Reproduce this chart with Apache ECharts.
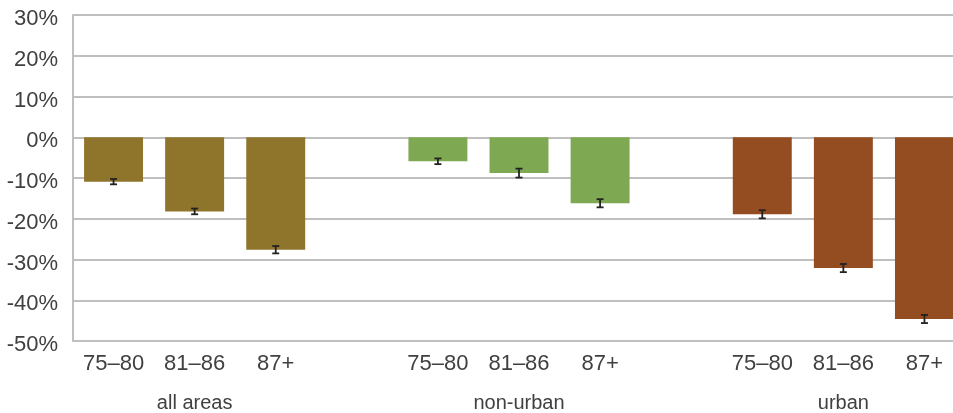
<!DOCTYPE html>
<html>
<head>
<meta charset="utf-8">
<style>
  html, body { margin: 0; padding: 0; background: #ffffff; overflow: hidden; }
  /* the canvas is a little wider than the window so the last group is clipped at the right */
  #chart { width: 965px; height: 413px; }
</style>
<script src="https://cdn.jsdelivr.net/npm/echarts@6/dist/echarts.min.js"></script>
</head>
<body>
<div id="chart"></div>
<script>
// Age bands within each area group
const ageBands = ['75–80', '81–86', '87+'];
// Area groups, in drawing order
const areas = ['all areas', 'non-urban', 'urban'];
const areaColors = ['#8f742c', '#7ea952', '#944c21'];

// Percentage change per age band (%)
const allAreasValues = [-10.9, -18.2, -27.6];
const nonUrbanValues = [-5.9, -8.8, -16.2];
const urbanValues = [-18.9, -32.1, -44.6];

// Half-width of the error bars (percentage points)
const allAreasErrors = [0.65, 0.7, 0.9];
const nonUrbanErrors = [0.7, 1.1, 1.0];
const urbanErrors = [1.0, 1.0, 1.0];

// Y axis ticks
const yTicks = [-50, -40, -30, -20, -10, 0, 10, 20, 30];

const groupValues = [allAreasValues, nonUrbanValues, urbanValues];
const groupErrors = [allAreasErrors, nonUrbanErrors, urbanErrors];

// Build an 11-slot category axis: 3 bars per group with an empty slot between groups
const slotLabels = [];
const slotGroupLabels = [];
const barData = [];
const errData = [];
areas.forEach((area, g) => {
  if (g > 0) {
    slotLabels.push('');
    slotGroupLabels.push('');
    barData.push('-');
  }
  ageBands.forEach((band, i) => {
    const idx = slotLabels.length;
    slotLabels.push(band);
    slotGroupLabels.push(i === 1 ? area : '');
    barData.push({ value: groupValues[g][i], itemStyle: { color: areaColors[g] } });
    errData.push([idx, groupValues[g][i], groupErrors[g][i]]);
  });
});
const slotIds = slotLabels.map((l, i) => i + ':' + l);

const FONT = "'Liberation Sans Narrow', 'Liberation Sans', Arial, sans-serif";

const chart = echarts.init(document.getElementById('chart'));
chart.setOption({
  animation: false,
  grid: { left: 73, right: 0, top: 15, bottom: 71 },
  xAxis: [
    {
      type: 'category',
      data: slotIds,
      axisLine: { show: false },
      axisTick: { show: false },
      axisLabel: {
        interval: 0,
        margin: 12,
        color: '#404040',
        fontFamily: FONT,
        fontSize: 22,
        formatter: v => v.split(':')[1]
      }
    },
    {
      type: 'category',
      position: 'bottom',
      offset: 40,
      data: slotIds.map((id, i) => i + ':' + slotGroupLabels[i]),
      axisLine: { show: false },
      axisTick: { show: false },
      axisLabel: {
        interval: 0,
        margin: 12,
        color: '#404040',
        fontFamily: FONT,
        fontSize: 20,
        formatter: v => v.split(':')[1]
      }
    }
  ],
  yAxis: {
    type: 'value',
    min: yTicks[0],
    max: yTicks[yTicks.length - 1],
    interval: 10,
    axisLine: { show: true, lineStyle: { color: '#bfbfbf', width: 2 } },
    axisTick: { show: false },
    splitLine: { lineStyle: { color: '#bfbfbf', width: 2 } },
    axisLabel: {
      margin: 15,
      color: '#404040',
      fontFamily: FONT,
      fontSize: 22,
      formatter: v => '{t|' + v + '%}',
      rich: { t: { fontFamily: FONT, fontSize: 22, color: '#404040', padding: [8, 0, 0, 0] } }
    }
  },
  series: [
    {
      type: 'bar',
      data: barData,
      barWidth: '72.7%',
      xAxisIndex: 0
    },
    {
      type: 'custom',
      xAxisIndex: 0,
      data: errData,
      z: 10,
      renderItem: (params, api) => {
        const x = api.value(0);
        const v = api.value(1);
        const e = api.value(2);
        const top = api.coord([x, v + e]);
        const bot = api.coord([x, v - e]);
        const half = 3.5;
        const style = { stroke: '#222222', lineWidth: 1.8 };
        return {
          type: 'group',
          children: [
            { type: 'line', shape: { x1: top[0], y1: top[1], x2: bot[0], y2: bot[1] }, style },
            { type: 'line', shape: { x1: top[0] - half, y1: top[1], x2: top[0] + half, y2: top[1] }, style },
            { type: 'line', shape: { x1: bot[0] - half, y1: bot[1], x2: bot[0] + half, y2: bot[1] }, style }
          ]
        };
      }
    }
  ]
});
</script>
</body>
</html>
